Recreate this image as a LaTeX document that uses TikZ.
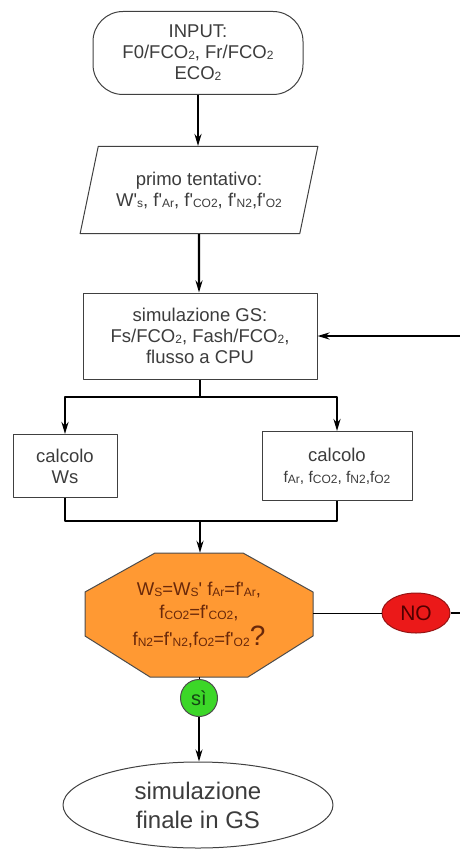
\documentclass[tikz,border=0pt]{standalone}
\usepackage{fontspec}
\setmainfont{Liberation Sans}[Ligatures=TeXOff]
\usetikzlibrary{shapes.geometric,arrows.meta}
\definecolor{arancio}{RGB}{255,153,51}
\definecolor{rosso}{RGB}{235,25,25}
\definecolor{verde}{RGB}{60,215,40}
\definecolor{testo}{RGB}{60,60,60}
\newcommand{\pd}[1]{\raisebox{-1pt}{\fontsize{12}{12}\selectfont #1}}
\begin{document}
\begin{tikzpicture}[x=1pt,y=-1pt,font=\fontsize{18.5}{21}\selectfont, line join=round,
	box/.style={draw=black!75, line width=1pt, text=testo, align=center, inner sep=0pt},
	freccia/.style={line width=2.4pt, -{Stealth[length=12pt,width=7pt]}},
	linea/.style={line width=2.4pt},
	sottile/.style={line width=1pt}]
	\useasboundingbox (0,0) rectangle (459,850);
	\node[box, rounded corners=30pt, minimum width=210pt, minimum height=83pt] (input) at (198,53)
		{INPUT:\\F0/FCO\pd{2}, Fr/FCO\pd{2}\\ECO\pd{2}};
	\node[box, trapezium, trapezium left angle=68, trapezium right angle=112, trapezium stretches=true,
		minimum width=238pt, minimum height=87pt] (tent) at (199,190)
		{primo tentativo:\\W'\pd{s}, f'\pd{Ar}, f'\pd{CO2}, f'\pd{N2},f'\pd{O2}};
	\node[box, minimum width=234pt, minimum height=86pt] (gs) at (200,336)
		{simulazione GS:\\Fs/FCO\pd{2}, Fash/FCO\pd{2},\\flusso a CPU};
	\node[box, minimum width=104pt, minimum height=63pt] (ws) at (65,466)
		{calcolo\\Ws};
	\node[box, minimum width=150pt, minimum height=69pt] (fr) at (337,466)
		{calcolo\\{\fontsize{15.5}{19}\selectfont f\pd{Ar}, f\pd{CO2}, f\pd{N2},f\pd{O2}}};
	\draw[draw=black!70, line width=1pt, fill=arancio] (155,553) -- (243,553) -- (313,592) -- (313,636)
		-- (248,677) -- (150,677) -- (85,636) -- (85,592) -- cycle;
	\node[minimum width=228pt, minimum height=124pt, inner sep=0pt, align=center, text={rgb,255:red,105;green,40;blue,10}] (oct) at (199,615)
		{W\pd{S}=W\pd{S}' f\pd{Ar}=f'\pd{Ar},\\[2pt]f\pd{CO2}=f'\pd{CO2},\\[4pt]f\pd{N2}=f'\pd{N2},f\pd{O2}=f'\pd{O2}{\fontsize{28}{21}\selectfont ?}};
	\node[ellipse, draw={rgb,255:red,150;green,20;blue,20}, line width=1pt, fill=rosso, text={rgb,255:red,80;green,0;blue,0},
		minimum width=68pt, minimum height=40pt, inner sep=0pt, font=\fontsize{21}{21}\selectfont] (no) at (416,613) {NO};
	\node[circle, draw=black!70, line width=1pt, fill=verde, text={rgb,255:red,20;green,70;blue,20},
		minimum size=37pt, inner sep=0pt, font=\fontsize{20}{20}\selectfont] (si) at (199,698) {sì};
	\node[box, ellipse, minimum width=270pt, minimum height=86pt, font=\fontsize{24}{29}\selectfont] (fin) at (198,805)
		{simulazione\\finale in GS};
	\coordinate (split) at (200,397);
	\coordinate (merge) at (200,521);
	\draw[freccia] (input) -- (input.south |- tent.north);
	\draw[freccia] (tent) -- (tent.south |- gs.north);
	\draw[linea] (gs) -- (split);
	\draw[freccia] (split) -| (ws.north);
	\draw[freccia] (split) -| (fr.north);
	\draw[linea] (ws.south) |- (merge);
	\draw[linea] (fr.south) |- (merge);
	\draw[freccia] (merge) -- (merge |- oct.north);
	\draw[sottile] (oct.east |- no.west) -- (no.west);
	\draw[freccia] (no.east) -- (461,613) |- (gs.east);
	\draw[sottile] (oct.south) -- (si.north);
	\draw[freccia, line width=1.6pt] (si.south) -- (si.south |- fin.north);
\end{tikzpicture}
\end{document}
